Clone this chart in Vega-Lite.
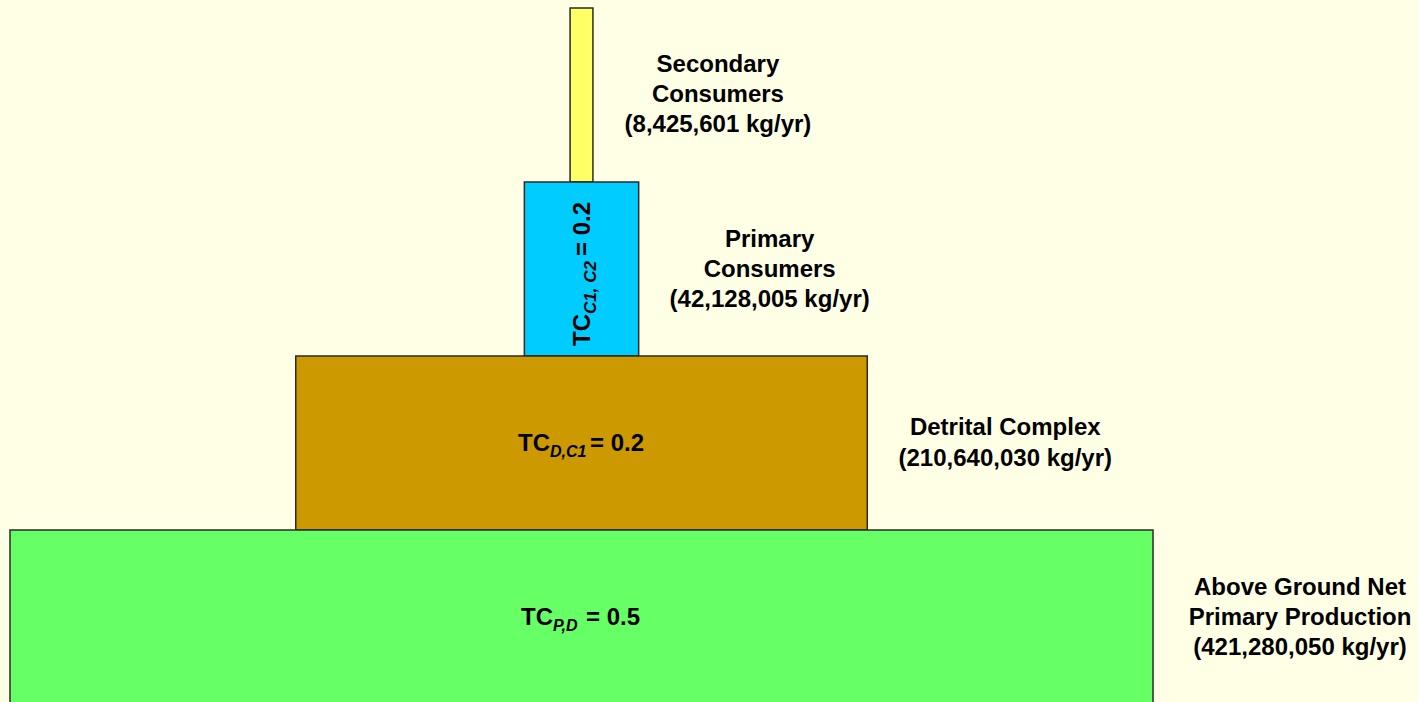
{
  "$schema": "https://vega.github.io/schema/vega-lite/v6.json",
  "width": 1418,
  "height": 702,
  "padding": 0,
  "autosize": {"type": "none"},
  "background": "#FFFFE5",
  "config": {"view": {"stroke": null}, "text": {"font": "Liberation Sans", "fontWeight": "bold", "color": "#000000"}},
  "data": {"values": [
    {"level": "Secondary Consumers", "value": 8425601, "label": "Secondary\nConsumers\n(8,425,601 kg/yr)", "sub": null, "tc": null},
    {"level": "Primary Consumers", "value": 42128005, "label": "Primary\nConsumers\n(42,128,005 kg/yr)", "sub": "C1, C2", "tc": 0.2},
    {"level": "Detrital Complex", "value": 210640030, "label": "Detrital Complex\n(210,640,030 kg/yr)", "sub": "D,C1", "tc": 0.2},
    {"level": "Above Ground Net Primary Production", "value": 421280050, "label": "Above Ground Net\nPrimary Production\n(421,280,050 kg/yr)", "sub": "P,D", "tc": 0.5}
  ]},
  "transform": [
    {"stack": "value", "groupby": ["level"], "offset": "center", "as": ["x0", "x1"]},
    {"calculate": "(datum.x0 + datum.x1) / 2", "as": "mid"},
    {"calculate": "datum.tc == null ? '' : '= ' + format(datum.tc, '.1f')", "as": "tcText"}
  ],
  "encoding": {
    "y": {"field": "level", "type": "nominal", "sort": ["Secondary Consumers", "Primary Consumers", "Detrital Complex", "Above Ground Net Primary Production"], "scale": {"range": [8, 704], "paddingInner": 0, "paddingOuter": 0}, "axis": null}
  },
  "layer": [
    {
      "mark": {"type": "bar", "stroke": "#2a2a2a", "strokeWidth": 1.5},
      "encoding": {
        "x": {"field": "x0", "type": "quantitative", "scale": {"domain": [-3685700, 518944000], "range": [0, 1418], "zero": false, "nice": false}, "axis": null},
        "x2": {"field": "x1"},
        "color": {"field": "level", "type": "nominal", "scale": {"domain": ["Secondary Consumers", "Primary Consumers", "Detrital Complex", "Above Ground Net Primary Production"], "range": ["#FFFF66", "#00CCFF", "#CC9900", "#66FF66"]}, "legend": null}
      }
    },
    {
      "transform": [{"filter": "datum.level == 'Secondary Consumers'"}],
      "mark": {"type": "text", "fontSize": 24, "lineHeight": 30, "lineBreak": "\n", "align": "center", "baseline": "middle", "dx": 125, "dy": -30},
      "encoding": {"x": {"field": "x1", "type": "quantitative"}, "text": {"field": "label"}}
    },
    {
      "transform": [{"filter": "datum.level == 'Primary Consumers'"}],
      "mark": {"type": "text", "fontSize": 24, "lineHeight": 30, "lineBreak": "\n", "align": "center", "baseline": "middle", "dx": 131, "dy": -29},
      "encoding": {"x": {"field": "x1", "type": "quantitative"}, "text": {"field": "label"}}
    },
    {
      "transform": [{"filter": "datum.level == 'Detrital Complex'"}],
      "mark": {"type": "text", "fontSize": 24, "lineHeight": 31, "lineBreak": "\n", "align": "center", "baseline": "middle", "dx": 138, "dy": -15},
      "encoding": {"x": {"field": "x1", "type": "quantitative"}, "text": {"field": "label"}}
    },
    {
      "transform": [{"filter": "datum.level == 'Above Ground Net Primary Production'"}],
      "mark": {"type": "text", "fontSize": 24, "lineHeight": 30, "lineBreak": "\n", "align": "center", "baseline": "middle", "dx": 147, "dy": -29},
      "encoding": {"x": {"field": "x1", "type": "quantitative"}, "text": {"field": "label"}}
    },
    {
      "transform": [{"filter": "datum.level == 'Above Ground Net Primary Production'"}],
      "mark": {"type": "text", "fontSize": 24, "align": "right", "baseline": "alphabetic", "dx": -28.5, "dy": 8},
      "encoding": {"x": {"field": "mid", "type": "quantitative"}, "text": {"value": "TC"}}
    },
    {
      "transform": [{"filter": "datum.level == 'Above Ground Net Primary Production'"}],
      "mark": {"type": "text", "fontSize": 16, "fontStyle": "italic", "align": "left", "baseline": "alphabetic", "dx": -28.5, "dy": 14},
      "encoding": {"x": {"field": "mid", "type": "quantitative"}, "text": {"field": "sub"}}
    },
    {
      "transform": [{"filter": "datum.level == 'Above Ground Net Primary Production'"}],
      "mark": {"type": "text", "fontSize": 24, "align": "left", "baseline": "alphabetic", "dx": 4.5, "dy": 8},
      "encoding": {"x": {"field": "mid", "type": "quantitative"}, "text": {"field": "tcText"}}
    },
    {
      "transform": [{"filter": "datum.level == 'Detrital Complex'"}],
      "mark": {"type": "text", "fontSize": 24, "align": "right", "baseline": "alphabetic", "dx": -31.5, "dy": 8},
      "encoding": {"x": {"field": "mid", "type": "quantitative"}, "text": {"value": "TC"}}
    },
    {
      "transform": [{"filter": "datum.level == 'Detrital Complex'"}],
      "mark": {"type": "text", "fontSize": 16, "fontStyle": "italic", "align": "left", "baseline": "alphabetic", "dx": -31.5, "dy": 14},
      "encoding": {"x": {"field": "mid", "type": "quantitative"}, "text": {"field": "sub"}}
    },
    {
      "transform": [{"filter": "datum.level == 'Detrital Complex'"}],
      "mark": {"type": "text", "fontSize": 24, "align": "left", "baseline": "alphabetic", "dx": 8.5, "dy": 8},
      "encoding": {"x": {"field": "mid", "type": "quantitative"}, "text": {"field": "tcText"}}
    },
    {
      "transform": [{"filter": "datum.level == 'Primary Consumers'"}],
      "mark": {"type": "text", "fontSize": 24, "angle": -90, "align": "right", "baseline": "alphabetic", "dx": -45, "dy": 8.5},
      "encoding": {"x": {"field": "mid", "type": "quantitative"}, "text": {"value": "TC"}}
    },
    {
      "transform": [{"filter": "datum.level == 'Primary Consumers'"}],
      "mark": {"type": "text", "fontSize": 17, "fontStyle": "italic", "angle": -90, "align": "left", "baseline": "alphabetic", "dx": -45, "dy": 14.5},
      "encoding": {"x": {"field": "mid", "type": "quantitative"}, "text": {"field": "sub"}}
    },
    {
      "transform": [{"filter": "datum.level == 'Primary Consumers'"}],
      "mark": {"type": "text", "fontSize": 24, "angle": -90, "align": "left", "baseline": "alphabetic", "dx": 13, "dy": 8.5},
      "encoding": {"x": {"field": "mid", "type": "quantitative"}, "text": {"field": "tcText"}}
    }
  ]
}
